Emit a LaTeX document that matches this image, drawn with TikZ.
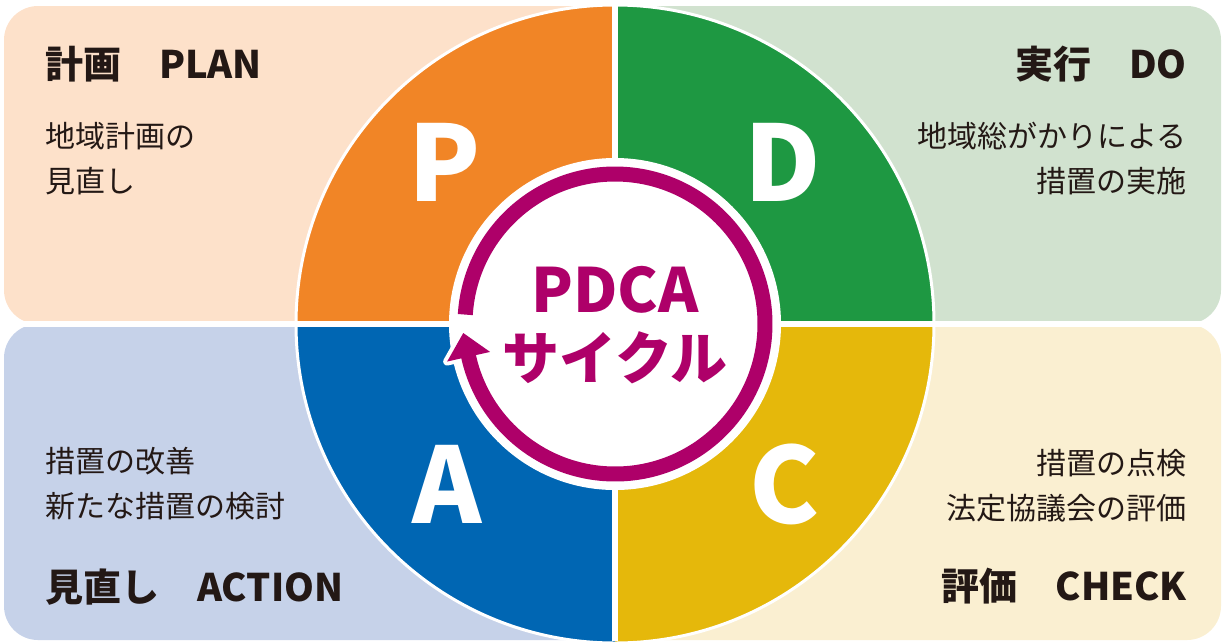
\documentclass[tikz,border=0pt]{standalone}
\usepackage{fontspec}
\newfontfamily\jp{Noto Sans CJK JP}
\definecolor{bgP}{HTML}{FDE1CA}
\definecolor{bgD}{HTML}{D1E2CF}
\definecolor{bgA}{HTML}{C6D2E9}
\definecolor{bgC}{HTML}{FAEFD1}
\definecolor{qP}{HTML}{F18526}
\definecolor{qD}{HTML}{1E9842}
\definecolor{qA}{HTML}{0066B3}
\definecolor{qC}{HTML}{E5B80B}
\definecolor{mag}{HTML}{AE0069}
\definecolor{inkdark}{HTML}{231815}
\begin{document}
\begin{tikzpicture}
  [x=1pt,y=-1pt,
   headtxt/.style={font=\jp\bfseries\fontsize{38}{44}\selectfont,text=inkdark,inner sep=0},
   bodytxt/.style={font=\jp\fontsize{30}{45}\selectfont,text=inkdark,inner sep=0},
   bigltr/.style={font=\jp\bfseries\fontsize{105}{105}\selectfont,text=white,inner sep=0},
   midtxt/.style={text=mag,inner sep=0}]
  \useasboundingbox (0,0) rectangle (1223,641);
  % panels
  \fill[bgP,rounded corners=34] (4,6) rectangle (615,324);
  \fill[bgD,rounded corners=34] (615,6) rectangle (1221,324);
  \fill[bgA,rounded corners=34] (4,324) rectangle (615,640);
  \fill[bgC,rounded corners=34] (615,324) rectangle (1221,640);

  % big circle
  \coordinate (c) at (615,324);
  \foreach \col/\a in {qP/180,qD/270,qC/0,qA/90}
    \fill[\col] (c) -- +(\a:319) arc[start angle=\a,delta angle=90,radius=319] -- cycle;
  \draw[white,line width=3] (c) circle[radius=319];
  \draw[white,line width=6.5] (0,324) -- (1223,324) (615,0) -- (615,641);

  % cycle arrow
  \fill[white] (c) circle[radius=166];
  \filldraw[white,line width=8,line join=round] (c) +(176.6:152) -- +(167.4:172) -- +(167.4:128) -- cycle;
  \draw[mag,line width=15] (c) ++(-176.4:150) arc[start angle=-176.4,end angle=167.6,radius=150];
  \fill[mag] (c) +(176.6:152) -- +(167.4:172) -- +(167.4:128) -- cycle;

  \node[midtxt,font=\jp\bfseries\fontsize{61}{61}\selectfont] (pdca) at (615,290) {PDCA};
  \node[midtxt,font=\jp\bfseries\fontsize{57}{57}\selectfont] (cyc) at (615,358) {サイクル};

  \node[bigltr] (lP) at (445,162) {P};
  \node[bigltr] (lD) at (783,162) {D};
  \node[bigltr] (lA) at (447,484) {A};
  \node[bigltr] (lC) at (785,484) {C};

  \node[headtxt,anchor=west] (hP) at (45,64) {計画　PLAN};
  \node[bodytxt,anchor=north west,align=left] (tP) at (45,122) {地域計画の\\見直し};
  \node[headtxt,anchor=east] (hD) at (1187,64) {実行　DO};
  \node[bodytxt,anchor=north east,align=right] (tD) at (1187,122) {地域総がかりによる\\措置の実施};
  \node[bodytxt,anchor=north west,align=left] (tA) at (45,447) {措置の改善\\新たな措置の検討};
  \node[headtxt,anchor=west] (hA) at (45,587) {見直し　ACTION};
  \node[bodytxt,anchor=north east,align=right] (tC) at (1187,449) {措置の点検\\法定協議会の評価};
  \node[headtxt,anchor=east] (hC) at (1187,586) {評価　CHECK};
\end{tikzpicture}
\end{document}
